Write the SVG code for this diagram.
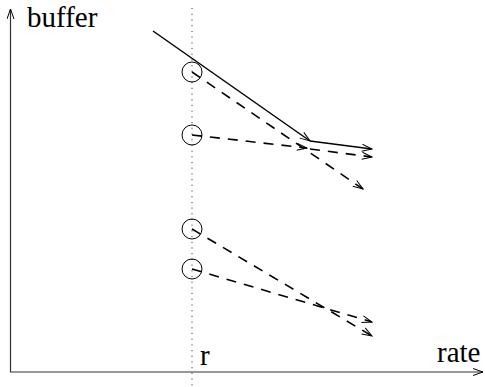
<svg xmlns="http://www.w3.org/2000/svg" width="485" height="387" viewBox="0 0 485 387">
  <style>
    .txt { font-family: "Liberation Serif", "Times New Roman", serif; font-size: 29px; fill: #000; }
    .axis { stroke: #333; stroke-width: 1.2; fill: none; }
    .solid { stroke: #000; stroke-width: 1.5; fill: none; }
    .dash { stroke: #000; stroke-width: 1.6; fill: none; stroke-dasharray: 10 8; }
    .dot { stroke: #444; stroke-width: 1; fill: none; stroke-dasharray: 1.2 4.5; }
    .circ { stroke: #000; stroke-width: 1; fill: none; }
  </style>
  <defs>
    <marker id="arr" markerUnits="userSpaceOnUse" markerWidth="12" markerHeight="9" refX="11" refY="4" orient="auto">
      <path d="M1,0.5 L11,4 L1,7.5" fill="none" stroke="#000" stroke-width="1"/>
    </marker>
  </defs>
  <rect width="485" height="387" fill="#fff"/>
  <g id="axes">
    <line class="axis" x1="10.5" y1="372" x2="10.5" y2="9" marker-end="url(#arr)"/>
    <line class="axis" x1="10" y1="372" x2="483" y2="372" marker-end="url(#arr)"/>
    <line class="dot" x1="192" y1="8" x2="192" y2="387"/>
  </g>
  <g id="labels">
    <text class="txt" x="27" y="27">buffer</text>
    <text class="txt" x="437" y="362">rate</text>
    <text class="txt" x="200" y="365">r</text>
  </g>
  <g id="node1"><circle class="circ" cx="192" cy="72" r="10"/></g>
  <g id="node2"><circle class="circ" cx="192" cy="135" r="10"/></g>
  <g id="node3"><circle class="circ" cx="192" cy="229" r="10"/></g>
  <g id="node4"><circle class="circ" cx="192" cy="269" r="10"/></g>
  <g id="connectors">
    <line class="solid" x1="153" y1="31" x2="310" y2="141" marker-end="url(#arr)"/>
    <line class="solid" x1="310" y1="141" x2="372" y2="149" marker-end="url(#arr)"/>
    <line class="dash" x1="192" y1="72" x2="363" y2="189" marker-end="url(#arr)"/>
    <line class="dash" x1="192" y1="135" x2="307" y2="148" marker-end="url(#arr)"/>
    <line class="dash" x1="310" y1="149" x2="372" y2="157" marker-end="url(#arr)"/>
    <line class="dash" x1="192" y1="229" x2="372" y2="336" marker-end="url(#arr)"/>
    <line class="dash" x1="192" y1="269" x2="372" y2="322" marker-end="url(#arr)"/>
  </g>
</svg>
